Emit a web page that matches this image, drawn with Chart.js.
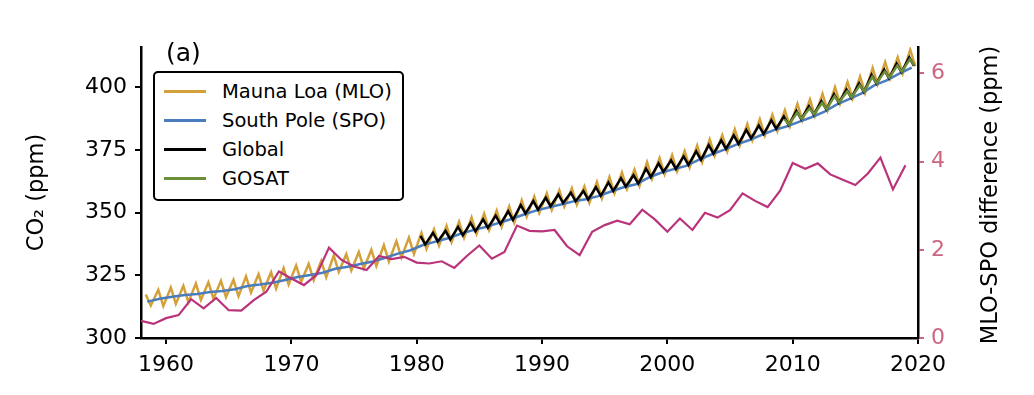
<!DOCTYPE html>
<html>
<head>
<meta charset="utf-8">
<script src="https://cdn.jsdelivr.net/npm/chart.js@4"></script>
<style>
  body { margin: 0; background: #fff; }
  #wrap { position: relative; width: 1034px; height: 395px; }
  #legend {
    position: absolute; left: 153px; top: 71px; width: 247px; height: 122px;
    border: 2px solid #000; border-radius: 5px; background: #fff;
    font-family: 'DejaVu Sans', sans-serif; font-size: 19.5px; color: #000;
    padding-top: 4px; box-sizing: content-box;
  }
  .row { display: flex; align-items: center; height: 29px; white-space: nowrap; }
  .swatch { width: 42px; height: 2.5px; margin-left: 9px; margin-right: 16px; flex: none; }
</style>
</head>
<body>
<div id="wrap">
  <canvas id="co2" width="1034" height="395"></canvas>
  <div id="legend"></div>
</div>
<script>
const years = [1958,1959,1960,1961,1962,1963,1964,1965,1966,1967,
  1968,1969,1970,1971,1972,1973,1974,1975,1976,1977,
  1978,1979,1980,1981,1982,1983,1984,1985,1986,1987,
  1988,1989,1990,1991,1992,1993,1994,1995,1996,1997,
  1998,1999,2000,2001,2002,2003,2004,2005,2006,2007,
  2008,2009,2010,2011,2012,2013,2014,2015,2016,2017,
  2018,2019];

// Mauna Loa seasonal maxima / minima (ppm)
const mloPeak = [317.3,319.2,320.1,320.8,321.7,322.2,322.8,323.2,324.6,325.4,
  326.2,327.8,328.9,329.5,330.7,332.9,333.4,334.3,335.2,337.0,
  338.6,340.0,341.9,343.3,344.7,346.4,348.1,349.6,350.8,352.5,
  354.9,356.4,357.7,358.9,359.7,360.4,362.2,364.2,366.0,367.1,
  370.1,371.8,372.9,374.5,376.7,379.2,380.9,383.2,385.3,387.2,
  389.0,390.8,393.3,395.1,397.3,400.0,402.0,404.2,407.6,410.0,
  411.9,414.9];
const mloTrough = [312.9,312.7,313.6,314.3,315.2,315.7,316.3,316.7,318.1,318.9,
  319.7,321.3,322.4,323.0,324.2,326.4,326.9,327.8,328.7,330.5,
  332.1,333.5,335.5,336.8,338.2,339.9,341.5,343.0,344.3,346.0,
  348.4,349.9,351.1,352.4,353.2,353.9,355.6,357.7,359.4,360.6,
  363.5,365.2,366.4,368.0,370.1,372.7,374.4,376.7,378.8,380.7,
  382.5,384.3,386.8,388.5,390.7,393.4,395.5,397.7,401.1,403.4,
  405.4,408.4];

// South Pole annual values (ppm)
const spo = [314.5,315.65,316.46,317.12,317.57,318.32,318.71,319.41,320.76,321.30,
  321.99,323.11,324.33,325.12,326.03,327.63,328.42,329.50,330.49,331.98,
  333.62,335.00,337.05,338.43,339.74,341.56,342.99,344.25,345.81,347.36,
  349.14,350.77,352.03,353.25,354.46,355.33,356.55,358.41,360.08,361.30,
  363.93,365.85,367.30,368.61,371.00,373.14,374.97,377.08,378.81,380.91,
  382.86,384.30,386.13,388.01,390.10,393.03,395.22,397.54,400.68,402.67,
  405.35,407.74];

// MLO - SPO annual difference (ppm, right axis)
const mloSpoDiff = [0.39,0.32,0.45,0.52,0.88,0.67,0.91,0.63,0.62,0.86,
  1.05,1.51,1.35,1.20,1.43,2.05,1.77,1.62,1.54,1.86,
  1.79,1.84,1.71,1.69,1.74,1.59,1.86,2.10,1.80,1.95,
  2.55,2.43,2.42,2.45,2.08,1.88,2.41,2.56,2.66,2.58,
  2.91,2.69,2.41,2.71,2.45,2.84,2.73,2.90,3.28,3.11,
  2.97,3.34,3.97,3.84,3.96,3.71,3.59,3.47,3.73,4.09,
  3.37,3.92];

const globalYears = [1980,1981,1982,1983,1984,1985,1986,1987,1988,1989,
  1990,1991,1992,1993,1994,1995,1996,1997,1998,1999,
  2000,2001,2002,2003,2004,2005,2006,2007,2008,2009,
  2010,2011,2012,2013,2014,2015,2016,2017,2018,2019];
const globalPeak = [340.7,341.9,342.7,344.3,345.9,347.3,348.8,350.5,353.0,354.6,
  355.9,357.2,357.9,358.6,360.1,362.0,363.7,364.9,367.5,369.6,
  370.8,372.4,374.4,376.9,378.8,380.8,383.0,384.7,386.8,388.3,
  390.6,392.4,394.5,397.2,399.1,401.5,404.9,407.0,409.4,411.9];
const globalTrough = [337.3,338.5,339.3,340.9,342.5,343.9,345.4,347.1,349.6,351.2,
  352.5,353.8,354.5,355.2,356.7,358.6,360.3,361.5,364.1,366.2,
  367.4,369.0,371.0,373.5,375.4,377.4,379.6,381.3,383.4,384.9,
  387.2,389.0,391.1,393.8,395.7,398.1,401.5,403.6,406.0,408.5];

const gosatYears = [2009,2010,2011,2012,2013,2014,2015,2016,2017,2018,2019];
const gosatPeak = [387.2,389.8,391.6,393.7,396.4,398.3,400.7,404.1,406.2,408.6,411.1];
const gosatTrough = [385.1,387.4,389.2,391.3,394.0,395.9,398.3,401.7,403.8,406.2,408.7];

const xTicks = [1960,1970,1980,1990,2000,2010,2020];
const co2Ticks = [300,325,350,375,400];
const diffTicks = [0,2,4,6];

function zigzag(yrs, peaks, troughs, pPhase, tPhase) {
  const pts = [];
  yrs.forEach(function(y, i) {
    pts.push({x: y + pPhase, y: peaks[i]});
    pts.push({x: y + tPhase, y: troughs[i]});
  });
  return pts;
}
function annual(yrs, vals, phase) {
  return yrs.map(function(y, i) { return {x: y + phase, y: vals[i]}; });
}

Chart.defaults.font.family = 'DejaVu Sans';
Chart.defaults.color = '#000';

const pink = '#cc6680';

const data = {
  datasets: [
    {
      label: 'Mauna Loa (MLO)', data: zigzag(years, mloPeak, mloTrough, 0.38, 0.78),
      borderColor: '#d4a03a', borderWidth: 2.5, yAxisID: 'y', order: 5, inLegend: true
    },
    {
      label: 'South Pole (SPO)', data: annual(years, spo, 0.5),
      borderColor: '#4a7dbd', borderWidth: 2.5, yAxisID: 'y', order: 4, inLegend: true
    },
    {
      label: 'Global', data: zigzag(globalYears, globalPeak, globalTrough, 0.3, 0.68),
      borderColor: '#000000', borderWidth: 2.5, yAxisID: 'y', order: 3, inLegend: true
    },
    {
      label: 'GOSAT', data: zigzag(gosatYears, gosatPeak, gosatTrough, 0.35, 0.7),
      borderColor: '#6b8e3a', borderWidth: 2.5, yAxisID: 'y', order: 2, inLegend: true
    },
    {
      label: 'MLO-SPO difference', data: annual(years, mloSpoDiff, 0),
      borderColor: '#b9337a', borderWidth: 2.2, yAxisID: 'y2', order: 1, inLegend: false
    }
  ]
};

const extraText = {
  id: 'extraText',
  afterDraw: function(chart) {
    const ctx = chart.ctx;
    ctx.save();
    ctx.fillStyle = '#000';
    ctx.font = '25px "DejaVu Sans"';
    ctx.textAlign = 'left';
    ctx.textBaseline = 'middle';
    ctx.fillText('(a)', 166, 54);
    ctx.translate(991, 195);
    ctx.rotate(-Math.PI / 2);
    ctx.font = '22.5px "DejaVu Sans"';
    ctx.textAlign = 'center';
    ctx.fillText('MLO-SPO difference (ppm)', 0, 0);
    ctx.restore();
  }
};

const config = {
  type: 'line',
  data: data,
  options: {
    responsive: false,
    animation: false,
    elements: { point: { radius: 0 }, line: { tension: 0, fill: false } },
    layout: { padding: { top: 47, left: 0, right: 0, bottom: 0 } },
    plugins: { legend: { display: false }, tooltip: { enabled: false } },
    scales: {
      x: {
        type: 'linear', position: 'bottom', min: 1958, max: 2020,
        afterBuildTicks: function(s) { s.ticks = xTicks.map(function(v) { return {value: v}; }); },
        afterFit: function(s) { s.height = 57; },
        ticks: { font: { size: 22 }, padding: 8, maxRotation: 0, callback: function(v) { return String(v); } },
        grid: { drawOnChartArea: false, drawTicks: true, tickLength: 6, color: '#000', lineWidth: 2 },
        border: { display: true, color: '#000', width: 2.5 }
      },
      y: {
        type: 'linear', position: 'left', min: 300, max: 416,
        afterBuildTicks: function(s) { s.ticks = co2Ticks.map(function(v) { return {value: v}; }); },
        afterFit: function(s) { s.width = 141; },
        ticks: { font: { size: 22 }, padding: 8 },
        grid: { drawOnChartArea: false, drawTicks: true, tickLength: 6, color: '#000', lineWidth: 2 },
        border: { display: true, color: '#000', width: 2.5 },
        title: { display: true, text: 'CO\u2082 (ppm)', font: { size: 22.5 }, padding: { top: 24 } }
      },
      y2: {
        type: 'linear', position: 'right', min: 0, max: 6.6,
        afterBuildTicks: function(s) { s.ticks = diffTicks.map(function(v) { return {value: v}; }); },
        afterFit: function(s) { s.width = 116; },
        ticks: { font: { size: 22 }, padding: 7, color: pink },
        grid: { drawOnChartArea: false, drawTicks: true, tickLength: 6, color: pink, lineWidth: 2 },
        border: { display: true, color: '#000', width: 2.5 }
      }
    }
  },
  plugins: [extraText]
};

const chart = new Chart(document.getElementById('co2'), config);

// legend box built from the datasets
const legend = document.getElementById('legend');
chart.data.datasets.filter(function(d) { return d.inLegend; }).forEach(function(d) {
  const row = document.createElement('div');
  row.className = 'row';
  const sw = document.createElement('span');
  sw.className = 'swatch';
  sw.style.background = d.borderColor;
  const txt = document.createElement('span');
  txt.textContent = d.label;
  row.appendChild(sw);
  row.appendChild(txt);
  legend.appendChild(row);
});
</script>
</body>
</html>
